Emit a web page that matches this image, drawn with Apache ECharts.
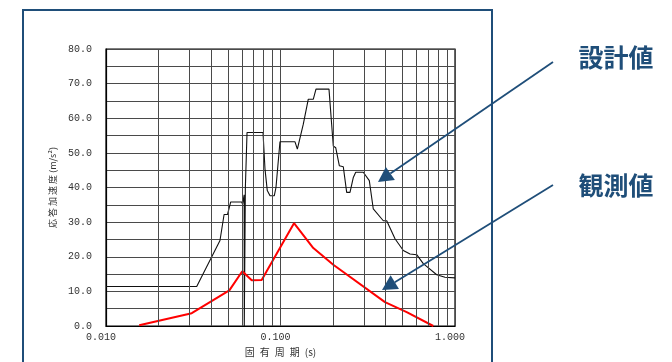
<!DOCTYPE html>
<html><head><meta charset="utf-8">
<script src="https://cdn.jsdelivr.net/npm/echarts@6/dist/echarts.min.js"></script>
<style>html,body{margin:0;padding:0;background:#fff}#c{width:672px;height:362px}</style>
</head><body><div id="c"></div>
<script>
// Design spectrum (設計値): [period (s), response acceleration (m/s²)]
const designValues = [[0.01,11.4],[0.0331,11.4],[0.045,24.7],[0.0475,32.2],[0.0497,32.2],[0.0518,35.8],[0.0599,35.8],[0.0606,35.2],[0.0619,37.9],[0.0620,0],[0.0627,0],[0.0629,40],[0.0643,55.9],[0.0794,55.9],[0.0815,45.3],[0.084,39.1],[0.0871,37.6],[0.0921,37.6],[0.0942,40],[0.0993,53.2],[0.1211,53.2],[0.1249,51.1],[0.1351,58.3],[0.1443,65.5],[0.1542,65.5],[0.1597,68.4],[0.1896,68.4],[0.2007,52],[0.2072,51.5],[0.2173,46.3],[0.229,46],[0.2395,38.6],[0.2502,38.6],[0.2614,42.9],[0.2698,44.4],[0.2982,44.4],[0.3228,42],[0.3402,33.8],[0.3882,30.4],[0.4061,30.4],[0.4531,25.2],[0.5055,21.8],[0.5524,20.8],[0.6033,20.6],[0.658,18],[0.7857,14.8],[0.8764,14.1],[1.0,13.9]];
// Observed spectrum (観測値)
const observedValues = [[0.0155,0.2],[0.031,3.7],[0.0509,10.3],[0.0604,15.8],[0.0684,13.2],[0.078,13.3],[0.1195,29.7],[0.1542,22.5],[0.2007,17.7],[0.397,6.9],[0.5288,4.0],[0.751,0]];
// Log-grid minor periods
const minorPeriods = [0.02,0.03,0.04,0.05,0.06,0.07,0.08,0.09,0.2,0.3,0.4,0.5,0.6,0.7,0.8,0.9];
const labelDesign = '設計値';
const labelObserved = '観測値';
const xName = '固\u2002有\u2002周\u2002期\u2002(s)';
const yName = '応 答 加 速 度 (m/s²)';

const chart = echarts.init(document.getElementById('c'), null, {renderer:'canvas'});
const navy = '#1f4e79';
const gridCol = '#4a4a4a';
const tickFont = {fontFamily:'Liberation Mono', fontSize:10, color:'#333'};

function arrow(x1,y1,x2,y2){
  const dx=x2-x1, dy=y2-y1, len=Math.hypot(dx,dy), ux=dx/len, uy=dy/len;
  const L=15, W=8, bx=x2-ux*L, by=y2-uy*L, nx=-uy, ny=ux;
  return [
    {type:'line', shape:{x1:x1,y1:y1,x2:bx,y2:by}, style:{stroke:navy, lineWidth:1.8}},
    {type:'polygon', shape:{points:[[x2,y2],[bx+nx*W,by+ny*W],[bx-nx*W,by-ny*W]]}, style:{fill:navy}}
  ];
}

chart.setOption({
  animation:false,
  backgroundColor:'#fff',
  grid:{left:106,right:217,top:49,bottom:35,show:true,borderColor:'#000',borderWidth:1.2},
  xAxis:{type:'log',logBase:10,min:0.01,max:1,
    name:xName,nameLocation:'middle',nameGap:21,
    nameTextStyle:{fontFamily:'Noto Sans CJK JP',fontSize:10,color:'#333'},
    axisLine:{show:true,lineStyle:{color:'#000',width:1.2}},
    axisTick:{show:false},
    axisLabel:Object.assign({margin:6,padding:[0,10,0,0],formatter:v=>Number(v).toFixed(3)},tickFont),
    splitLine:{show:true,lineStyle:{color:gridCol,width:1}},
    minorTick:{show:false},minorSplitLine:{show:false}
  },
  yAxis:{type:'value',min:0,max:80,interval:5,
    name:yName,nameLocation:'middle',nameGap:38,nameRotate:90,
    nameTextStyle:{fontFamily:'Noto Sans CJK JP',fontSize:9,color:'#333'},
    axisLine:{show:true,lineStyle:{color:'#000',width:1.2}},
    axisTick:{show:false},
    axisLabel:Object.assign({margin:14,formatter:v=>(v%10===0?v.toFixed(1):'')},tickFont),
    splitLine:{show:true,lineStyle:{color:gridCol,width:1}}
  },
  series:[
    {type:'line',data:designValues,showSymbol:false,symbol:'none',
     lineStyle:{color:'#111',width:1.1},z:3,
     markLine:{silent:true,symbol:['none','none'],label:{show:false},
       lineStyle:{color:gridCol,width:1,type:'solid'},
       data:minorPeriods.map(p=>({xAxis:p}))}},
    {type:'line',data:observedValues,showSymbol:false,symbol:'none',
     lineStyle:{color:'#ff0000',width:2},z:4}
  ],
  graphic:[
    {type:'rect',shape:{x:23,y:10,width:469,height:400},style:{fill:'none',stroke:navy,lineWidth:2},z:10},
    ...arrow(553,62,378,182).map(g=>Object.assign(g,{z:10})),
    ...arrow(553,185,382,290).map(g=>Object.assign(g,{z:10})),
    {type:'text',x:616,y:57,style:{text:labelDesign,fontFamily:'Noto Sans CJK JP',fontWeight:'bold',fontSize:25,fill:navy,textAlign:'center',textVerticalAlign:'middle'},z:10},
    {type:'text',x:616,y:185,style:{text:labelObserved,fontFamily:'Noto Sans CJK JP',fontWeight:'bold',fontSize:25,fill:navy,textAlign:'center',textVerticalAlign:'middle'},z:10}
  ]
});
</script></body></html>
